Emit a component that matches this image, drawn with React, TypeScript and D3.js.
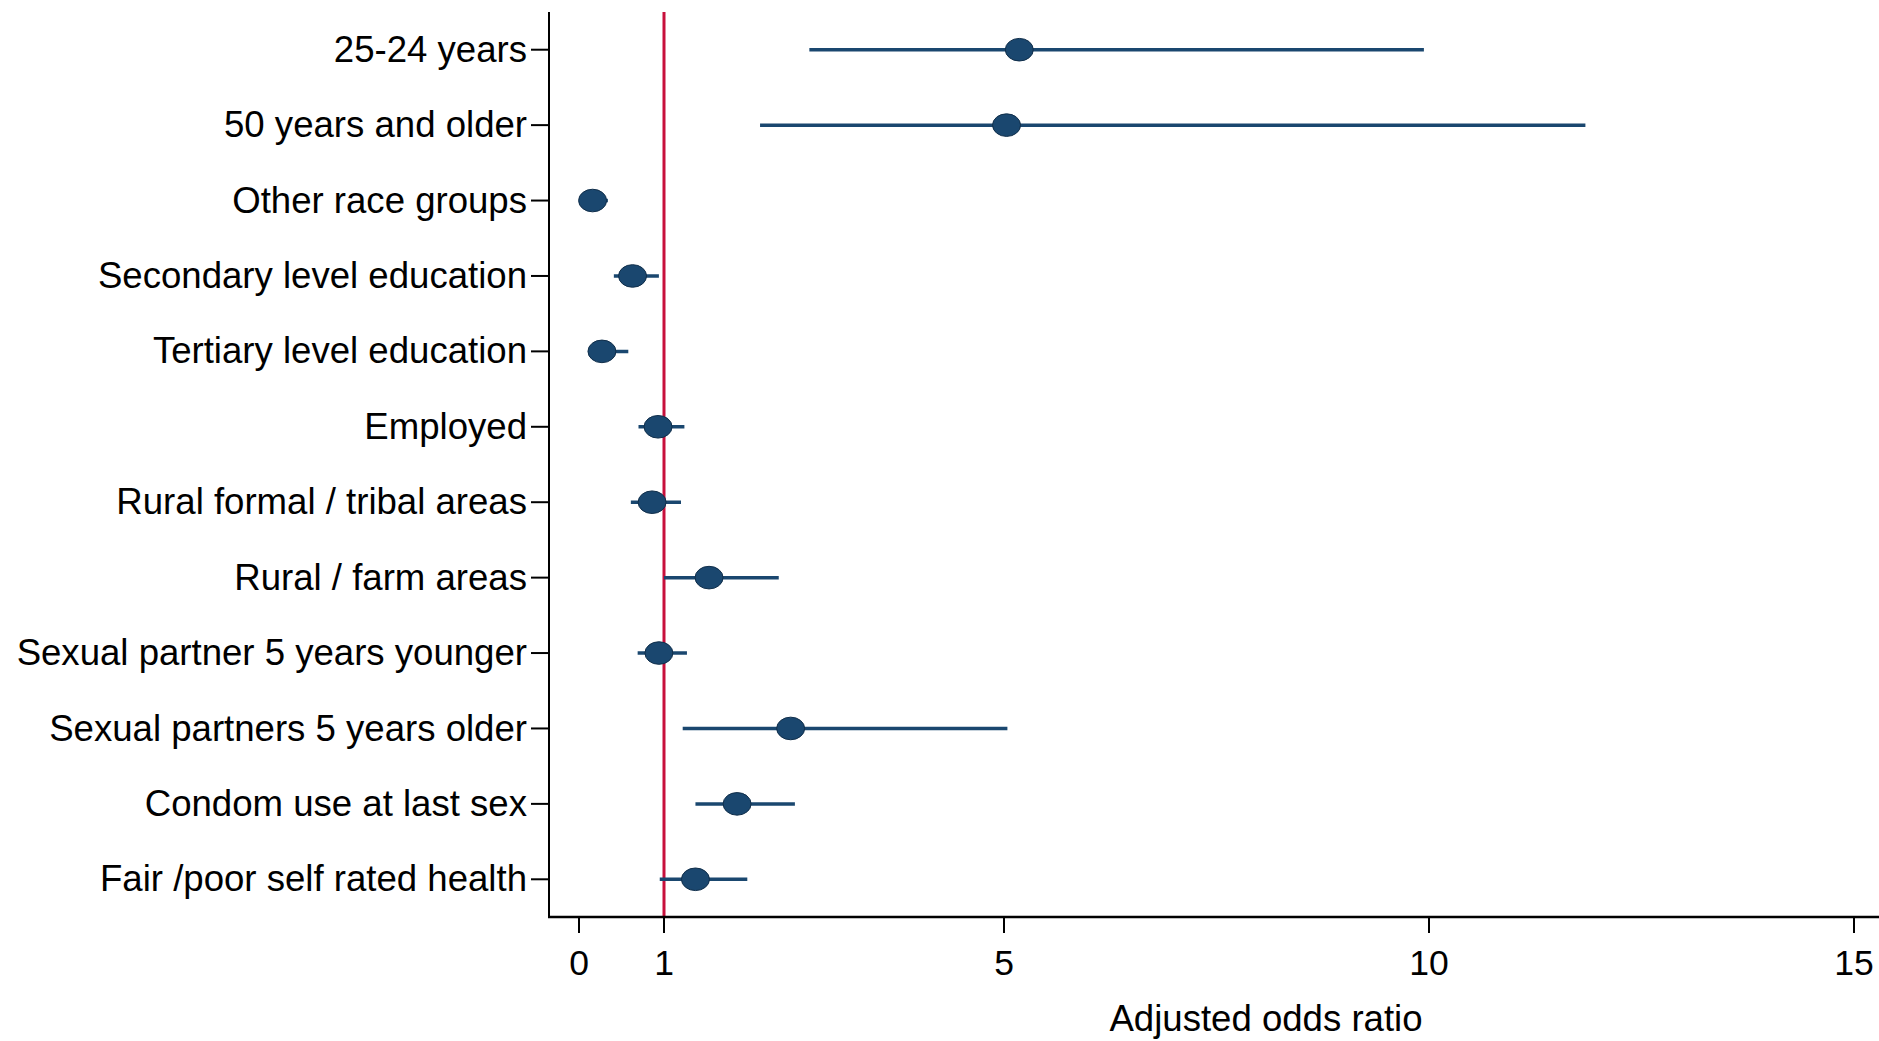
import React from "react";
import * as d3 from "d3";

const categories = [
  "25-24 years",
  "50 years and older",
  "Other race groups",
  "Secondary level education",
  "Tertiary level education",
  "Employed",
  "Rural formal / tribal areas",
  "Rural / farm areas",
  "Sexual partner 5 years younger",
  "Sexual partners 5 years older",
  "Condom use at last sex",
  "Fair /poor self rated health",
];
const estimates = [5.18, 5.03, 0.16, 0.63, 0.27, 0.93, 0.86, 1.53, 0.94, 2.49, 1.86, 1.37];
const lowerCI = [2.71, 2.13, 0.08, 0.41, 0.15, 0.70, 0.61, 1.0, 0.69, 1.22, 1.37, 0.95];
const upperCI = [9.94, 11.84, 0.34, 0.94, 0.58, 1.24, 1.20, 2.35, 1.27, 5.04, 2.54, 1.98];
const xTicks = [0, 1, 5, 10, 15];
const refValue = 1;
const xTitle = "Adjusted odds ratio";

const W = 1879;
const H = 1041;
const FONT = "'Liberation Sans', Arial, Helvetica, sans-serif";
const NAVY = "#1a476f";

export default function App() {
  const axisX = 549;
  const axisTop = 12;
  const axisBottom = 917;
  const x = d3.scaleLinear().domain([0, 15]).range([579, 1854]);
  const y = d3.scalePoint<string>().domain(categories).range([axisTop, axisBottom]).padding(0.5);

  return (
    <svg
      width={W}
      height={H}
      style={{ position: "absolute", left: 0, top: 0, background: "#fff" }}
      fontFamily={FONT}
    >
      <rect x={0} y={0} width={W} height={H} fill="#fff" />
      {/* reference line */}
      <line x1={x(refValue)} x2={x(refValue)} y1={axisTop} y2={axisBottom} stroke="#c8103c" strokeWidth={3} />
      {/* whiskers */}
      {categories.map((c, i) => (
        <line
          key={"w" + c}
          x1={x(lowerCI[i])}
          x2={x(upperCI[i])}
          y1={y(c)!}
          y2={y(c)!}
          stroke={NAVY}
          strokeWidth={3.5}
        />
      ))}
      {/* markers */}
      {categories.map((c, i) => (
        <ellipse
          key={"m" + c}
          cx={x(estimates[i])}
          cy={y(c)!}
          rx={14}
          ry={11.3}
          fill={NAVY}
          stroke="#102e4a"
          strokeWidth={1}
        />
      ))}
      {/* axes */}
      <line x1={axisX} x2={axisX} y1={axisTop} y2={axisBottom + 1} stroke="#000" strokeWidth={2} />
      <line x1={axisX - 1} x2={W} y1={axisBottom} y2={axisBottom} stroke="#000" strokeWidth={2.5} />
      {categories.map((c) => (
        <g key={"t" + c}>
          <line x1={axisX - 18} x2={axisX} y1={y(c)!} y2={y(c)!} stroke="#000" strokeWidth={2} />
          <text x={axisX - 22} y={y(c)! - 1} dy="0.358em" textAnchor="end" fontSize={36.6} fill="#000">
            {c}
          </text>
        </g>
      ))}
      {xTicks.map((t) => (
        <g key={"xt" + t}>
          <line x1={x(t)} x2={x(t)} y1={axisBottom} y2={axisBottom + 16} stroke="#000" strokeWidth={2} />
          <text x={x(t)} y={975} textAnchor="middle" fontSize={35.5} fill="#000">
            {t}
          </text>
        </g>
      ))}
      <text x={1266} y={1031} textAnchor="middle" fontSize={36.6} fill="#000">
        {xTitle}
      </text>
    </svg>
  );
}
